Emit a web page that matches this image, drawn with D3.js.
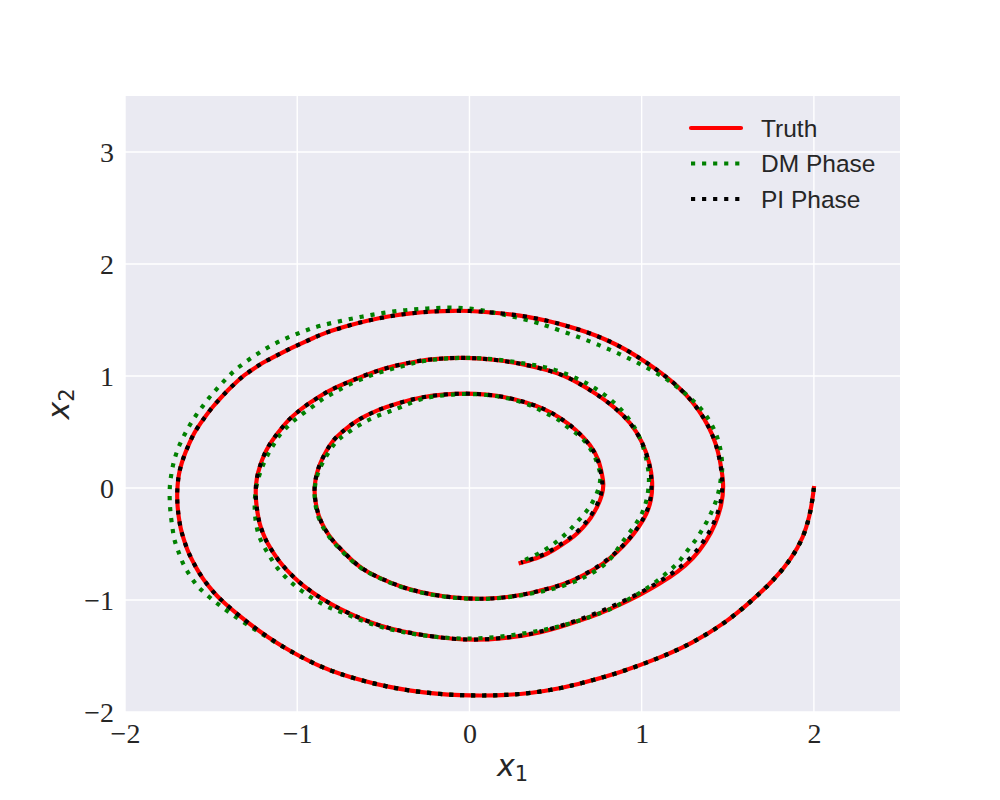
<!DOCTYPE html>
<html>
<head>
<meta charset="utf-8">
<script src="https://cdn.jsdelivr.net/npm/d3@7"></script>
<style>
  html, body { margin: 0; padding: 0; background: #ffffff; }
  svg { display: block; }
</style>
</head>
<body>
<svg id="chart" width="1000" height="800"></svg>
<script>
// ---------------- data ----------------
const xTicks = [-2, -1, 0, 1, 2];
const yTicks = [-2, -1, 0, 1, 2, 3];
const seriesNames = ["Truth", "DM Phase", "PI Phase"];

const truthPts = [
  [2.00,0.00],[1.99,-0.12],[1.975,-0.25],[1.94,-0.44],[1.87,-0.63],[1.77,-0.82],[1.63,-1.02],
  [1.49,-1.20],[1.29,-1.39],[1.10,-1.52],[0.88,-1.645],[0.66,-1.74],[0.53,-1.789],[0.355,-1.833],
  [0.219,-1.848],[0.083,-1.854],[-0.052,-1.851],[-0.188,-1.839],[-0.344,-1.810],[-0.479,-1.774],
  [-0.615,-1.723],[-0.751,-1.661],[-0.868,-1.595],[-1.000,-1.490],[-1.084,-1.417],[-1.168,-1.334],
  [-1.252,-1.243],[-1.336,-1.142],[-1.421,-1.030],[-1.465,-0.967],
  [-1.508,-0.890],[-1.547,-0.813],[-1.582,-0.726],[-1.611,-0.643],[-1.638,-0.554],[-1.659,-0.458],
  [-1.677,-0.366],[-1.688,-0.262],[-1.695,-0.167],[-1.698,-0.068],[-1.695,0.027],[-1.688,0.125],
  [-1.672,0.220],[-1.650,0.315],[-1.625,0.405],[-1.598,0.494],[-1.562,0.577],[-1.525,0.658],
  [-1.487,0.732],[-1.443,0.807],[-1.402,0.875],[-1.355,0.943],[-1.310,1.006],[-1.255,1.063],
  [-1.200,1.119],[-1.140,1.167],[-1.085,1.211],[-1.022,1.259],[-0.962,1.301],[-0.902,1.342],
  [-0.848,1.381],[-0.712,1.446],[-0.596,1.494],[-0.460,1.536],[-0.344,1.560],[-0.208,1.578],
  [-0.091,1.583],[0.000,1.582],[0.103,1.571],[0.239,1.551],[0.355,1.524],[0.450,1.496],
  [0.549,1.455],[0.675,1.396],[0.792,1.327],[0.908,1.238],[1.015,1.134],[1.112,1.030],
  [1.209,0.911],[1.297,0.771],[1.364,0.622],[1.413,0.473],[1.445,0.324],[1.465,0.161],
  [1.477,0.012],
  [1.465,-0.150],[1.430,-0.320],[1.375,-0.480],[1.300,-0.630],[1.210,-0.750],[1.100,-0.860],
  [0.990,-0.955],[0.870,-1.045],[0.750,-1.125],[0.630,-1.190],[0.520,-1.245],[0.410,-1.290],
  [0.316,-1.318],[0.180,-1.345],[0.045,-1.357],[-0.091,-1.350],[-0.246,-1.320],[-0.383,-1.283],
  [-0.518,-1.232],[-0.635,-1.164],[-0.751,-1.083],[-0.866,-0.982],[-0.916,-0.926],[-0.968,-0.869],
  [-1.017,-0.801],[-1.062,-0.732],[-1.104,-0.658],[-1.139,-0.577],[-1.174,-0.494],[-1.201,-0.399],
  [-1.221,-0.310],[-1.232,-0.211],[-1.240,-0.113],[-1.242,-0.018],[-1.236,0.090],[-1.218,0.190],
  [-1.194,0.295],[-1.163,0.384],[-1.130,0.458],[-1.091,0.533],[-1.052,0.607],[-1.003,0.673],
  [-0.955,0.732],[-0.902,0.786],[-0.848,0.839],[-0.790,0.890],[-0.674,0.964],[-0.557,1.038],
  [-0.441,1.089],[-0.305,1.134],[-0.188,1.155],[-0.052,1.164],[0.064,1.158],[0.200,1.137],
  [0.336,1.098],[0.452,1.054],[0.550,1.005],[0.631,0.940],[0.739,0.839],[0.844,0.720],
  [0.937,0.583],[1.005,0.414],[1.048,0.220],[1.064,0.060],
  [1.058,-0.107],[1.027,-0.241],[0.986,-0.345],[0.928,-0.464],[0.860,-0.569],[0.782,-0.673],
  [0.685,-0.762],[0.588,-0.836],[0.491,-0.887],[0.400,-0.920],[0.336,-0.946],[0.219,-0.976],
  [0.103,-0.991],[-0.013,-0.988],[-0.150,-0.970],[-0.285,-0.932],[-0.402,-0.881],[-0.518,-0.806],
  [-0.615,-0.732],[-0.685,-0.645],[-0.751,-0.539],[-0.790,-0.479],[-0.838,-0.375],[-0.877,-0.256],
  [-0.897,-0.107],[-0.902,0.012],[-0.887,0.131],[-0.868,0.220],[-0.829,0.339],[-0.790,0.429],
  [-0.751,0.488],[-0.654,0.607],[-0.537,0.696],[-0.421,0.756],[-0.285,0.810],[-0.150,0.836],
  [-0.033,0.845],[0.103,0.836],[0.219,0.810],[0.336,0.762],[0.430,0.710],[0.520,0.637],
  [0.617,0.524],[0.705,0.384],[0.753,0.250],[0.772,0.101],[0.780,0.042],[0.772,-0.063],
  [0.743,-0.167],[0.705,-0.271],[0.656,-0.360],[0.607,-0.435],[0.549,-0.494],[0.491,-0.554],
  [0.413,-0.619],[0.297,-0.670]
];

const dmPts = [
  [2.00,0.00],[1.99,-0.12],[1.975,-0.25],[1.94,-0.44],[1.87,-0.63],[1.77,-0.82],[1.63,-1.02],
  [1.49,-1.20],[1.29,-1.39],[1.10,-1.52],[0.88,-1.645],[0.66,-1.74],[0.53,-1.789],[0.355,-1.833],
  [0.219,-1.848],[0.083,-1.854],[-0.052,-1.851],[-0.188,-1.839],[-0.344,-1.810],[-0.479,-1.774],
  [-0.615,-1.723],[-0.751,-1.661],[-0.868,-1.595],[-1.000,-1.490],[-1.084,-1.418],[-1.168,-1.338],
  [-1.258,-1.252],[-1.352,-1.158],[-1.445,-1.055],[-1.510,-0.975],
  [-1.559,-0.911],[-1.601,-0.836],[-1.634,-0.756],[-1.667,-0.667],[-1.688,-0.574],
  [-1.712,-0.479],[-1.722,-0.384],[-1.731,-0.286],[-1.738,-0.190],[-1.741,-0.092],[-1.741,0.012],
  [-1.733,0.107],[-1.722,0.205],[-1.706,0.295],[-1.683,0.390],[-1.654,0.479],[-1.624,0.563],
  [-1.590,0.646],[-1.551,0.726],[-1.512,0.807],[-1.469,0.881],[-1.426,0.955],[-1.382,1.024],
  [-1.333,1.089],[-1.279,1.149],[-1.227,1.202],[-1.174,1.253],[-1.116,1.301],[-1.058,1.342],
  [-1.000,1.378],[-0.939,1.413],[-0.877,1.446],[-0.751,1.491],[-0.625,1.530],[-0.499,1.565],
  [-0.373,1.589],[-0.247,1.604],[-0.115,1.613],[0.016,1.604],[0.142,1.565],[0.258,1.530],
  [0.394,1.476],[0.452,1.446],[0.575,1.381],[0.695,1.313],[0.811,1.238],[0.928,1.158],
  [1.044,1.063],[1.157,0.964],[1.258,0.839],[1.351,0.708],[1.423,0.533],[1.461,0.354],
  [1.471,0.161],[1.461,0.101],
  [1.452,-0.003],[1.432,-0.122],[1.403,-0.226],[1.374,-0.315],[1.341,-0.399],[1.310,-0.476],
  [1.267,-0.554],[1.229,-0.637],[1.190,-0.702],[1.140,-0.765],[1.090,-0.830],[1.040,-0.885],
  [0.986,-0.940],[0.928,-0.990],[0.869,-1.040],[0.821,-1.083],[0.705,-1.149],[0.578,-1.214],
  [0.452,-1.262],[0.320,-1.298],[0.180,-1.330],[0.045,-1.345],[-0.091,-1.345],[-0.246,-1.322],
  [-0.383,-1.290],[-0.518,-1.242],[-0.635,-1.180],[-0.751,-1.100],[-0.809,-1.074],[-0.868,-1.024],
  [-0.922,-0.976],[-0.974,-0.920],[-1.027,-0.857],[-1.071,-0.792],[-1.116,-0.717],[-1.150,-0.635],
  [-1.182,-0.554],[-1.217,-0.458],[-1.235,-0.360],[-1.245,-0.260],[-1.248,-0.160],[-1.245,-0.060],
  [-1.235,0.040],[-1.215,0.140],[-1.190,0.240],[-1.160,0.330],[-1.132,0.400],[-1.104,0.473],
  [-1.060,0.545],[-1.012,0.612],[-0.961,0.672],[-0.905,0.730],[-0.858,0.792],[-0.800,0.839],
  [-0.741,0.890],[-0.683,0.935],[-0.625,0.973],[-0.567,1.009],[-0.508,1.038],[-0.441,1.069],
  [-0.383,1.089],[-0.305,1.125],[-0.188,1.152],[-0.052,1.164],[0.064,1.160],[0.200,1.142],
  [0.336,1.106],[0.442,1.083],[0.569,1.018],[0.685,0.935],[0.792,0.830],[0.889,0.696],
  [0.967,0.533],[1.015,0.354],[1.040,0.161],[1.044,0.071],
  [1.038,-0.033],[1.025,-0.140],[0.995,-0.255],[0.950,-0.360],[0.895,-0.465],[0.845,-0.580],
  [0.792,-0.688],[0.675,-0.792],[0.617,-0.836],[0.501,-0.896],[0.442,-0.917],[0.336,-0.950],
  [0.219,-0.978],[0.103,-0.992],[-0.013,-0.990],[-0.150,-0.972],[-0.285,-0.935],[-0.402,-0.884],
  [-0.518,-0.810],[-0.615,-0.736],[-0.690,-0.645],[-0.755,-0.540],[-0.795,-0.480],[-0.843,-0.375],
  [-0.882,-0.256],[-0.900,-0.107],[-0.900,0.012],[-0.882,0.131],[-0.855,0.220],[-0.813,0.335],
  [-0.772,0.420],[-0.730,0.470],[-0.640,0.565],[-0.560,0.630],[-0.479,0.675],[-0.400,0.720],
  [-0.285,0.800],[-0.150,0.830],[-0.033,0.843],[0.103,0.834],[0.219,0.805],[0.336,0.750],
  [0.394,0.711],[0.452,0.658],[0.511,0.622],[0.559,0.554],[0.607,0.503],[0.660,0.440],
  [0.700,0.360],[0.735,0.260],[0.755,0.160],[0.763,0.101],[0.753,-0.003],[0.724,-0.101],
  [0.695,-0.182],[0.656,-0.250],[0.611,-0.330],[0.569,-0.396],[0.520,-0.464],[0.468,-0.524],
  [0.413,-0.577],[0.320,-0.645]
];

const piPts = [
  [2.00,0.00],[1.99,-0.12],[1.975,-0.25],[1.94,-0.44],[1.87,-0.63],[1.77,-0.82],[1.63,-1.02],
  [1.49,-1.20],[1.29,-1.39],[1.10,-1.52],[0.88,-1.645],[0.66,-1.74],[0.53,-1.789],[0.355,-1.833],
  [0.219,-1.848],[0.083,-1.854],[-0.052,-1.851],[-0.188,-1.839],[-0.344,-1.810],[-0.479,-1.774],
  [-0.615,-1.723],[-0.751,-1.661],[-0.868,-1.595],[-1.000,-1.490],[-1.084,-1.417],[-1.168,-1.334],
  [-1.252,-1.243],[-1.336,-1.142],[-1.421,-1.030],[-1.465,-0.967],
  [-1.508,-0.890],[-1.547,-0.813],[-1.582,-0.726],[-1.611,-0.643],[-1.638,-0.554],[-1.659,-0.458],
  [-1.677,-0.366],[-1.688,-0.262],[-1.695,-0.167],[-1.698,-0.068],[-1.695,0.027],[-1.688,0.125],
  [-1.672,0.220],[-1.650,0.315],[-1.625,0.405],[-1.598,0.494],[-1.562,0.577],[-1.525,0.658],
  [-1.487,0.732],[-1.443,0.807],[-1.402,0.875],[-1.355,0.943],[-1.310,1.006],[-1.255,1.063],
  [-1.200,1.119],[-1.140,1.167],[-1.085,1.211],[-1.022,1.259],[-0.962,1.301],[-0.902,1.342],
  [-0.848,1.381],[-0.712,1.446],[-0.596,1.494],[-0.460,1.536],[-0.344,1.560],[-0.208,1.578],
  [-0.091,1.583],[0.000,1.582],[0.103,1.571],[0.239,1.551],[0.355,1.524],[0.450,1.496],
  [0.549,1.455],[0.675,1.396],[0.792,1.327],[0.908,1.238],[1.015,1.134],[1.112,1.030],
  [1.209,0.911],[1.297,0.771],[1.364,0.622],[1.413,0.473],[1.445,0.324],[1.463,0.161],
  [1.472,0.012],
  [1.458,-0.150],[1.420,-0.318],[1.363,-0.475],[1.288,-0.622],[1.198,-0.742],[1.090,-0.850],
  [0.981,-0.945],[0.862,-1.035],[0.744,-1.115],[0.626,-1.181],[0.517,-1.238],[0.408,-1.285],
  [0.316,-1.315],[0.180,-1.343],[0.045,-1.356],[-0.091,-1.350],[-0.246,-1.320],[-0.383,-1.283],
  [-0.518,-1.232],[-0.635,-1.164],[-0.751,-1.083],[-0.866,-0.982],[-0.916,-0.926],[-0.968,-0.869],
  [-1.017,-0.801],[-1.062,-0.732],[-1.104,-0.658],[-1.139,-0.577],[-1.174,-0.494],[-1.201,-0.399],
  [-1.221,-0.310],[-1.232,-0.211],[-1.240,-0.113],[-1.242,-0.018],[-1.236,0.090],[-1.218,0.190],
  [-1.194,0.295],[-1.163,0.384],[-1.130,0.458],[-1.091,0.533],[-1.052,0.607],[-1.003,0.673],
  [-0.955,0.732],[-0.902,0.786],[-0.848,0.839],[-0.790,0.890],[-0.674,0.964],[-0.557,1.038],
  [-0.441,1.089],[-0.305,1.134],[-0.188,1.155],[-0.052,1.164],[0.064,1.158],[0.200,1.137],
  [0.336,1.098],[0.452,1.054],[0.550,1.005],[0.631,0.940],[0.739,0.839],[0.844,0.720],
  [0.937,0.583],[1.005,0.414],[1.046,0.220],[1.060,0.060],
  [1.054,-0.107],[1.023,-0.241],[0.982,-0.345],[0.924,-0.464],[0.856,-0.569],[0.779,-0.670],
  [0.683,-0.760],[0.588,-0.836],[0.491,-0.887],[0.400,-0.920],[0.336,-0.946],[0.219,-0.976],
  [0.103,-0.991],[-0.013,-0.988],[-0.150,-0.970],[-0.285,-0.932],[-0.402,-0.881],[-0.518,-0.806],
  [-0.615,-0.732],[-0.685,-0.645],[-0.751,-0.539],[-0.790,-0.479],[-0.838,-0.375],[-0.877,-0.256],
  [-0.897,-0.107],[-0.902,0.012],[-0.887,0.131],[-0.868,0.220],[-0.829,0.339],[-0.790,0.429],
  [-0.751,0.488],[-0.654,0.607],[-0.537,0.696],[-0.421,0.756],[-0.285,0.810],[-0.150,0.836],
  [-0.033,0.845],[0.103,0.836],[0.219,0.810],[0.336,0.762],[0.430,0.710],[0.520,0.637],
  [0.617,0.524],[0.703,0.384],[0.750,0.250],[0.768,0.101],[0.774,0.042],[0.766,-0.063],
  [0.737,-0.167],[0.698,-0.268],[0.649,-0.356],[0.600,-0.430],[0.543,-0.489],[0.486,-0.548],
  [0.410,-0.612],[0.300,-0.665]
];

// ---------------- layout ----------------
const svg = d3.select("#chart");
const W = 1000, H = 800;
const plot = { left: 125, right: 900, top: 96, bottom: 712 };

const x = d3.scaleLinear().domain([-2, 2.5]).range([plot.left, plot.right]);
const y = d3.scaleLinear().domain([-2, 3.5]).range([plot.bottom, plot.top]);

svg.append("rect").attr("x", 0).attr("y", 0).attr("width", W).attr("height", H).attr("fill", "#ffffff");
svg.append("rect")
  .attr("x", plot.left).attr("y", plot.top)
  .attr("width", plot.right - plot.left).attr("height", plot.bottom - plot.top)
  .attr("fill", "#EAEAF2");

// grid
const grid = svg.append("g");
grid.selectAll("line.gx").data(xTicks).join("line")
  .attr("x1", d => x(d)).attr("x2", d => x(d))
  .attr("y1", plot.top).attr("y2", plot.bottom)
  .attr("stroke", "#ffffff").attr("stroke-width", 1.4);
grid.selectAll("line.gy").data(yTicks).join("line")
  .attr("x1", plot.left).attr("x2", plot.right)
  .attr("y1", d => y(d)).attr("y2", d => y(d))
  .attr("stroke", "#ffffff").attr("stroke-width", 1.4);

// axes (no domain line, no ticks, seaborn darkgrid look)
const fmt = d => (d < 0 ? "\u2212" + Math.abs(d) : String(d));
const xAxis = d3.axisBottom(x).tickValues(xTicks).tickSize(0).tickPadding(0).tickFormat(fmt);
const yAxis = d3.axisLeft(y).tickValues(yTicks).tickSize(0).tickPadding(0).tickFormat(fmt);

const gx = svg.append("g").attr("transform", `translate(0,${plot.bottom})`).call(xAxis);
gx.select(".domain").remove();
gx.selectAll("text")
  .attr("y", 31).attr("dy", 0)
  .attr("font-family", "'Liberation Serif', 'DejaVu Serif', serif")
  .attr("font-size", 28).attr("fill", "#262626");

const gy = svg.append("g").attr("transform", `translate(${plot.left},0)`).call(yAxis);
gy.select(".domain").remove();
gy.selectAll("text")
  .attr("x", -11).attr("dy", "0.34em")
  .attr("font-family", "'Liberation Serif', 'DejaVu Serif', serif")
  .attr("font-size", 28).attr("fill", "#262626");

// clip
svg.append("clipPath").attr("id", "clip").append("rect")
  .attr("x", plot.left).attr("y", plot.top)
  .attr("width", plot.right - plot.left).attr("height", plot.bottom - plot.top);

const line = d3.line().x(d => x(d[0])).y(d => y(d[1])).curve(d3.curveBasis);
const LW = 4.17;
const styles = [
  { color: "#ff0000", dash: null, cap: "square" },
  { color: "#008000", dash: `${LW},${(LW * 1.65).toFixed(2)}`, cap: "butt" },
  { color: "#000000", dash: `${LW},${(LW * 1.65).toFixed(2)}`, cap: "butt" }
];
const seriesData = [truthPts, dmPts, piPts];

const gl = svg.append("g").attr("clip-path", "url(#clip)");
seriesData.forEach((pts, i) => {
  gl.append("path")
    .attr("d", line(pts))
    .attr("fill", "none")
    .attr("stroke", styles[i].color)
    .attr("stroke-width", LW)
    .attr("stroke-linecap", styles[i].cap)
    .attr("stroke-linejoin", "round")
    .attr("stroke-dasharray", styles[i].dash);
});

// axis labels
const xl = svg.append("text")
  .attr("x", (plot.left + plot.right) / 2).attr("y", 776)
  .attr("text-anchor", "middle")
  .attr("font-family", "'DejaVu Sans', sans-serif")
  .attr("font-size", 30).attr("fill", "#262626");
xl.append("tspan").attr("font-style", "italic").text("x");
xl.append("tspan").attr("font-size", 21).attr("dy", 5).text("1");

const yl = svg.append("text")
  .attr("transform", `translate(69,${(plot.top + plot.bottom) / 2}) rotate(-90)`)
  .attr("text-anchor", "middle")
  .attr("font-family", "'DejaVu Sans', sans-serif")
  .attr("font-size", 30).attr("fill", "#262626");
yl.append("tspan").attr("font-style", "italic").text("x");
yl.append("tspan").attr("font-size", 21).attr("dy", 5).text("2");

// legend
const legend = svg.append("g");
const legY = [128, 163.5, 199];
seriesNames.forEach((name, i) => {
  legend.append("line")
    .attr("x1", 691).attr("x2", 741)
    .attr("y1", legY[i]).attr("y2", legY[i])
    .attr("stroke", styles[i].color)
    .attr("stroke-width", LW)
    .attr("stroke-linecap", i === 0 ? "round" : "butt")
    .attr("stroke-dasharray", styles[i].dash);
  legend.append("text")
    .attr("x", 761).attr("y", legY[i]).attr("dy", "0.35em")
    .attr("font-family", "'Liberation Sans', Arial, sans-serif")
    .attr("font-size", 24.5).attr("fill", "#262626")
    .text(name);
});
</script>
</body>
</html>
